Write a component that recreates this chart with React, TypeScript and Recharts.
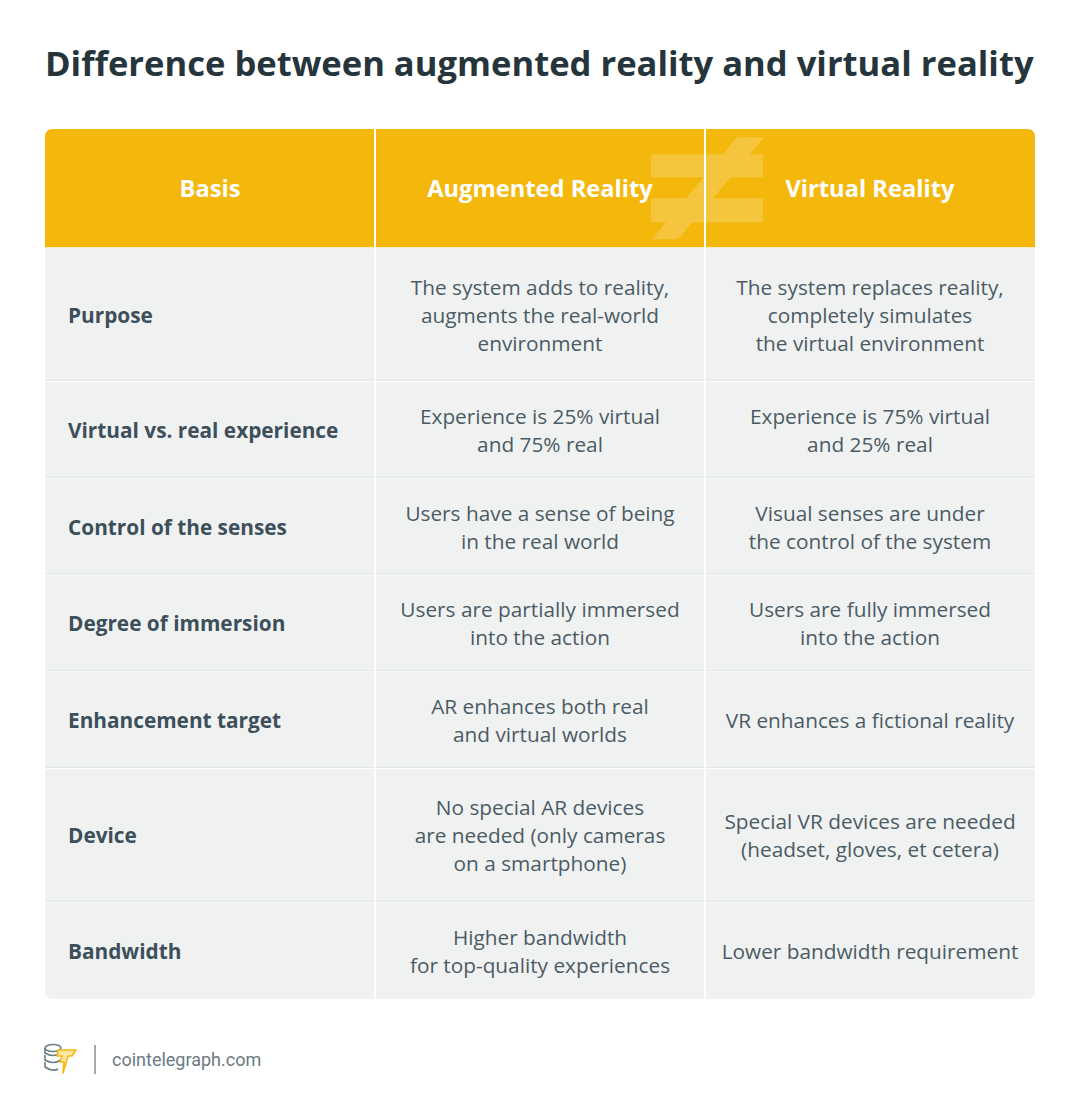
import { ComposedChart, XAxis, YAxis, ReferenceArea, Customized } from "recharts";

const title = "Difference between augmented reality and virtual reality";
const headers = ["Basis", "Augmented Reality", "Virtual Reality"];
const bases = [
  "Purpose",
  "Virtual vs. real experience",
  "Control of the senses",
  "Degree of immersion",
  "Enhancement target",
  "Device",
  "Bandwidth",
];
const arText = [
  ["The system adds to reality,", "augments the real-world", "environment"],
  ["Experience is 25% virtual", "and 75% real"],
  ["Users have a sense of being", "in the real world"],
  ["Users are partially immersed", "into the action"],
  ["AR enhances both real", "and virtual worlds"],
  ["No special AR devices", "are needed (only cameras", "on a smartphone)"],
  ["Higher bandwidth", "for top-quality experiences"],
];
const vrText = [
  ["The system replaces reality,", "completely simulates", "the virtual environment"],
  ["Experience is 75% virtual", "and 25% real"],
  ["Visual senses are under", "the control of the system"],
  ["Users are fully immersed", "into the action"],
  ["VR enhances a fictional reality"],
  ["Special VR devices are needed", "(headset, gloves, et cetera)"],
  ["Lower bandwidth requirement"],
];
const source = "cointelegraph.com";

const W = 1080;
const H = 1119;
const HEADER_UNITS = 119;
const LINE_UNITS = 37;
const PAD_UNITS = 23;
const LINE_GAP = 28;
const YELLOW = "#F4B80C";
const GRAY = "#F0F2F2";
const FONT = "'Open Sans', sans-serif";

// row heights come from the number of text lines in each row
const rowUnits = bases.map(
  (_, i) => PAD_UNITS + LINE_UNITS * Math.max(arText[i].length, vrText[i].length)
);
const rowStarts: number[] = [];
let acc = HEADER_UNITS;
rowUnits.forEach((u) => {
  rowStarts.push(acc);
  acc += u;
});
const total = acc;

type Cell = {
  key: string;
  row: number; // -1 is the header
  col: number;
  lines: string[];
  y1: number;
  y2: number;
};

const cells: Cell[] = [];
headers.forEach((h, c) =>
  cells.push({ key: `h${c}`, row: -1, col: c, lines: [h], y1: 0, y2: HEADER_UNITS })
);
bases.forEach((b, r) => {
  const y1 = rowStarts[r];
  const y2 = y1 + rowUnits[r];
  cells.push({ key: `b${r}`, row: r, col: 0, lines: [b], y1, y2 });
  cells.push({ key: `a${r}`, row: r, col: 1, lines: arText[r], y1, y2 });
  cells.push({ key: `v${r}`, row: r, col: 2, lines: vrText[r], y1, y2 });
});

const tableRows = bases.map((b, i) => ({ basis: b, ar: arText[i].join(" "), vr: vrText[i].join(" ") }));

function roundedPath(x: number, y: number, w: number, h: number, r: [number, number, number, number]) {
  const [tl, tr, br, bl] = r;
  return `M${x + tl},${y} H${x + w - tr} Q${x + w},${y} ${x + w},${y + tr} V${y + h - br} Q${x + w},${y + h} ${x + w - br},${y + h} H${x + bl} Q${x},${y + h} ${x},${y + h - bl} V${y + tl} Q${x},${y} ${x + tl},${y} Z`;
}

const NotEqual = ({ cx, cy, color }: { cx: number; cy: number; color: string }) => (
  <g fill={color}>
    <rect x={cx - 54} y={cy - 34} width={112} height={23} />
    <rect x={cx - 54} y={cy + 10} width={112} height={24} />
    <polygon points={`${cx + 32},${cy - 51} ${cx + 59},${cy - 51} ${cx - 27},${cy + 51} ${cx - 53},${cy + 51}`} />
  </g>
);

const makeShape = (cell: Cell) => (props: any) => {
  const { x, y, width, height } = props;
  const last = cell.row === bases.length - 1;
  const isHeader = cell.row === -1;
  const l = cell.col > 0 ? 1 : 0;
  const r = cell.col < 2 ? 1 : 0;
  const t = isHeader ? 0 : 0.5;
  const b = last ? 0 : 0.5;
  const rx = x + l;
  const ry = y + t;
  const rw = width - l - r;
  const rh = height - t - b;
  const R = 8;
  const radii: [number, number, number, number] = [
    isHeader && cell.col === 0 ? R : 0,
    isHeader && cell.col === 2 ? R : 0,
    last && cell.col === 2 ? R : 0,
    last && cell.col === 0 ? R : 0,
  ];
  const clipId = `clip-${cell.key}`;
  const n = cell.lines.length;
  const cy = y + height / 2;
  const alignLeft = !isHeader && cell.col === 0;
  const tx = alignLeft ? x + 23 : x + width / 2;
  return (
    <g>
      <defs>
        <clipPath id={clipId}>
          <path d={roundedPath(rx, ry, rw, rh, radii)} />
        </clipPath>
      </defs>
      <path d={roundedPath(rx, ry, rw, rh, radii)} fill={isHeader ? YELLOW : GRAY} />
      {!isHeader && !last && (
        <line x1={rx} x2={rx + rw} y1={ry + rh - 0.5} y2={ry + rh - 0.5} stroke="#E1E5E6" strokeWidth={1} />
      )}
      {isHeader && cell.col > 0 && (
        <g clipPath={`url(#${clipId})`}>
          <NotEqual cx={cell.col === 1 ? x + width : x} cy={cy} color="#F5C53E" />
        </g>
      )}
      <text
        x={tx}
        textAnchor={alignLeft ? "start" : "middle"}
        fontFamily={FONT}
        fontSize={isHeader ? 23.7 : 20.8}
        fontWeight={isHeader || cell.col === 0 ? 700 : 400}
        fill={isHeader ? "#FFFFFF" : cell.col === 0 ? "#3D4F5A" : "#4B5B64"}
      >
        {cell.lines.map((line, i) => (
          <tspan key={i} x={tx} y={cy + (i - (n - 1) / 2) * LINE_GAP} dominantBaseline="central">
            {line}
          </tspan>
        ))}
      </text>
    </g>
  );
};

const Extras = () => (
  <g>
    <text x={45} y={62} dominantBaseline="central" fontFamily={FONT} fontWeight={700} fontSize={34.6} fill="#26343B">
      {title}
    </text>
    {/* footer logo */}
    <g fill="none" stroke="#6E7C84" strokeWidth={1.6}>
      <ellipse cx={53} cy={1048} rx={8} ry={3.5} />
      <path d="M45,1048 V1053 Q53,1058 61,1053" />
      <path d="M45,1055 V1060 Q53,1065 61,1060" />
      <path d="M45,1062 V1067 Q53,1072 58,1069" />
    </g>
    <path
      d="M58,1050 H76 L72,1056 H68 L63,1073 L64,1062 H60 L62,1056 H57 Z"
      fill="#FBE7A2"
      stroke="#F4B80C"
      strokeWidth={1.6}
      strokeLinejoin="round"
    />
    <line x1={95} x2={95} y1={1045} y2={1074} stroke="#7F8C93" strokeWidth={1.5} />
    <text x={112} y={1059} dominantBaseline="central" fontFamily="Roboto, sans-serif" fontSize={18} fill="#6B7A82">
      {source}
    </text>
  </g>
);

export default function App() {
  return (
    <div style={{ width: W, height: H, background: "#FFFFFF" }}>
      <style>{"body{margin:0}"}</style>
      <ComposedChart
        width={W}
        height={H}
        data={tableRows}
        margin={{ top: 129, right: 45, bottom: 120, left: 45 }}
      >
        <XAxis type="number" dataKey="x" domain={[0, 3]} hide allowDataOverflow />
        <YAxis type="number" domain={[0, total]} reversed hide allowDataOverflow />
        {cells.map((c) => (
          <ReferenceArea
            key={c.key}
            x1={c.col}
            x2={c.col + 1}
            y1={c.y1}
            y2={c.y2}
            ifOverflow="visible"
            shape={makeShape(c)}
          />
        ))}
        <Customized component={Extras} />
      </ComposedChart>
    </div>
  );
}
